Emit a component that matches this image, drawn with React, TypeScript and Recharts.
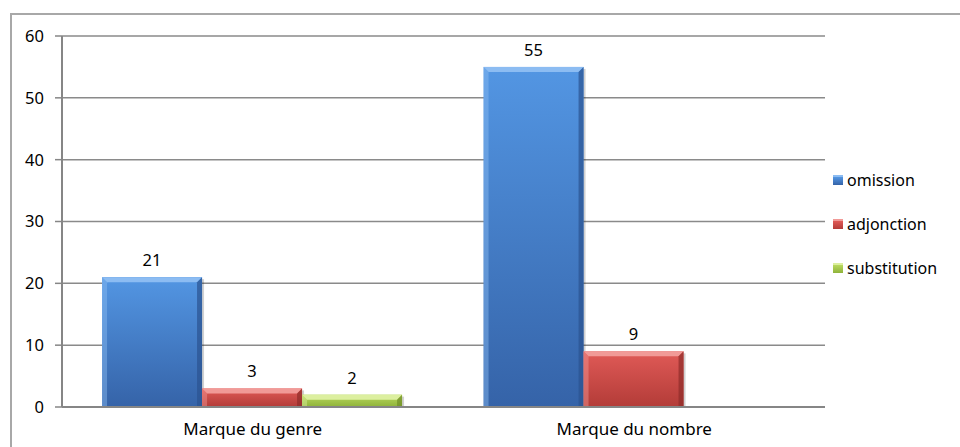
import { BarChart, Bar, XAxis, YAxis, CartesianGrid, LabelList } from 'recharts';

const categories = ['Marque du genre', 'Marque du nombre'];
const omission = [21, 55];
const adjonction = [3, 9];
const substitution: (number | null)[] = [2, null];
const yTicks = [0, 10, 20, 30, 40, 50, 60];

const series = [
  { key: 'omission', top: '#5396e3', bottom: '#3563a8', light: '#8cbcf2', dark: '#2b5290' },
  { key: 'adjonction', top: '#e05a57', bottom: '#b33c38', light: '#f19a97', dark: '#8f2c29' },
  { key: 'substitution', top: '#b9d85e', bottom: '#8fb33a', light: '#dcef9f', dark: '#6f8d27' },
];

const data = categories.map((category, i) => ({
  category,
  omission: omission[i],
  adjonction: adjonction[i],
  substitution: substitution[i],
}));

const FONT = '"Noto Sans", "DejaVu Sans", sans-serif';
const FS = 16.5;
const AXIS = '#868686';

function BevelBar(props: any) {
  const { x, y, width, height, s } = props;
  if (!height || height <= 0) return null;
  const b = Math.min(5, height / 2);
  return (
    <g>
      <rect x={x + 2} y={y + 2} width={width} height={height - 2} fill="rgba(0,0,0,0.18)" />
      <rect x={x} y={y} width={width} height={height} fill={`url(#grad-${s.key})`} />
      <polygon
        points={`${x},${y} ${x + width},${y} ${x + width - b},${y + b} ${x + b},${y + b}`}
        fill={s.light}
      />
      <polygon
        points={`${x},${y} ${x + b},${y + b} ${x + b},${y + height} ${x},${y + height}`}
        fill={s.light}
        opacity={0.45}
      />
      <polygon
        points={`${x + width},${y} ${x + width - b},${y + b} ${x + width - b},${y + height} ${x + width},${y + height}`}
        fill={s.dark}
        opacity={0.7}
      />
    </g>
  );
}

function LegendBox() {
  return (
    <div style={{ position: 'absolute', left: 833, top: 158, fontFamily: FONT, fontSize: 16 }}>
      {series.map((s) => (
        <div key={s.key} style={{ display: 'flex', alignItems: 'center', height: 44 }}>
          <span
            style={{
              display: 'inline-block',
              width: 10,
              height: 10,
              marginRight: 4,
              background: `linear-gradient(${s.top}, ${s.bottom})`,
              borderTop: `2px solid ${s.light}`,
              boxSizing: 'border-box',
            }}
          />
          <span>{s.key}</span>
        </div>
      ))}
    </div>
  );
}

export default function App() {
  return (
    <div style={{ position: 'fixed', left: 0, top: 0, width: 960, height: 447, overflow: 'hidden', background: '#fff' }}>
      <div
        style={{
          position: 'absolute',
          left: 10,
          top: 13,
          width: 1000,
          height: 500,
          border: '2px solid #a8a8a8',
        }}
      />
      <div style={{ position: 'absolute', left: 0, top: 0, fontFamily: FONT }}>
        <BarChart
          width={960}
          height={447}
          data={data}
          margin={{ top: 36, right: 135, bottom: 10, left: 0 }}
          barCategoryGap="10.5%"
          barGap={0}
        >
          <defs>
            {series.map((s) => (
              <linearGradient key={s.key} id={`grad-${s.key}`} x1="0" y1="0" x2="0" y2="1">
                <stop offset="0%" stopColor={s.top} />
                <stop offset="100%" stopColor={s.bottom} />
              </linearGradient>
            ))}
          </defs>
          <CartesianGrid vertical={false} stroke="#8a8a8a" strokeWidth={1.5} />
          <XAxis
            xAxisId="edge"
            type="number"
            domain={[0, 2]}
            ticks={[0, 1, 2]}
            allowDataOverflow
            height={0}
            axisLine={false}
            tickLine={{ stroke: AXIS, strokeWidth: 1.5 }}
            tickSize={7}
            tickFormatter={() => ''}
          />
          <XAxis
            dataKey="category"
            height={30}
            axisLine={{ stroke: AXIS, strokeWidth: 2 }}
            tickLine={false}
            tickSize={0}
            tickMargin={16}
            tick={{ fill: '#000', fontSize: 17 }}
          />
          <YAxis
            domain={[0, 60]}
            ticks={yTicks}
            width={62}
            axisLine={{ stroke: AXIS, strokeWidth: 2 }}
            tickLine={{ stroke: AXIS, strokeWidth: 1.5 }}
            tickSize={7}
            tickMargin={11}
            tick={{ fill: '#000', fontSize: FS }}
          />
          {series.map((s) => (
            <Bar
              key={s.key}
              dataKey={s.key}
              isAnimationActive={false}
              fill={s.top}
              shape={(p: any) => <BevelBar {...p} s={s} />}
            >
              <LabelList
                dataKey={s.key}
                position="top"
                offset={11}
                fill="#000"
                fontSize={FS}
                formatter={(v: any) => (v == null ? '' : v)}
              />
            </Bar>
          ))}
        </BarChart>
      </div>
      <LegendBox />
    </div>
  );
}
